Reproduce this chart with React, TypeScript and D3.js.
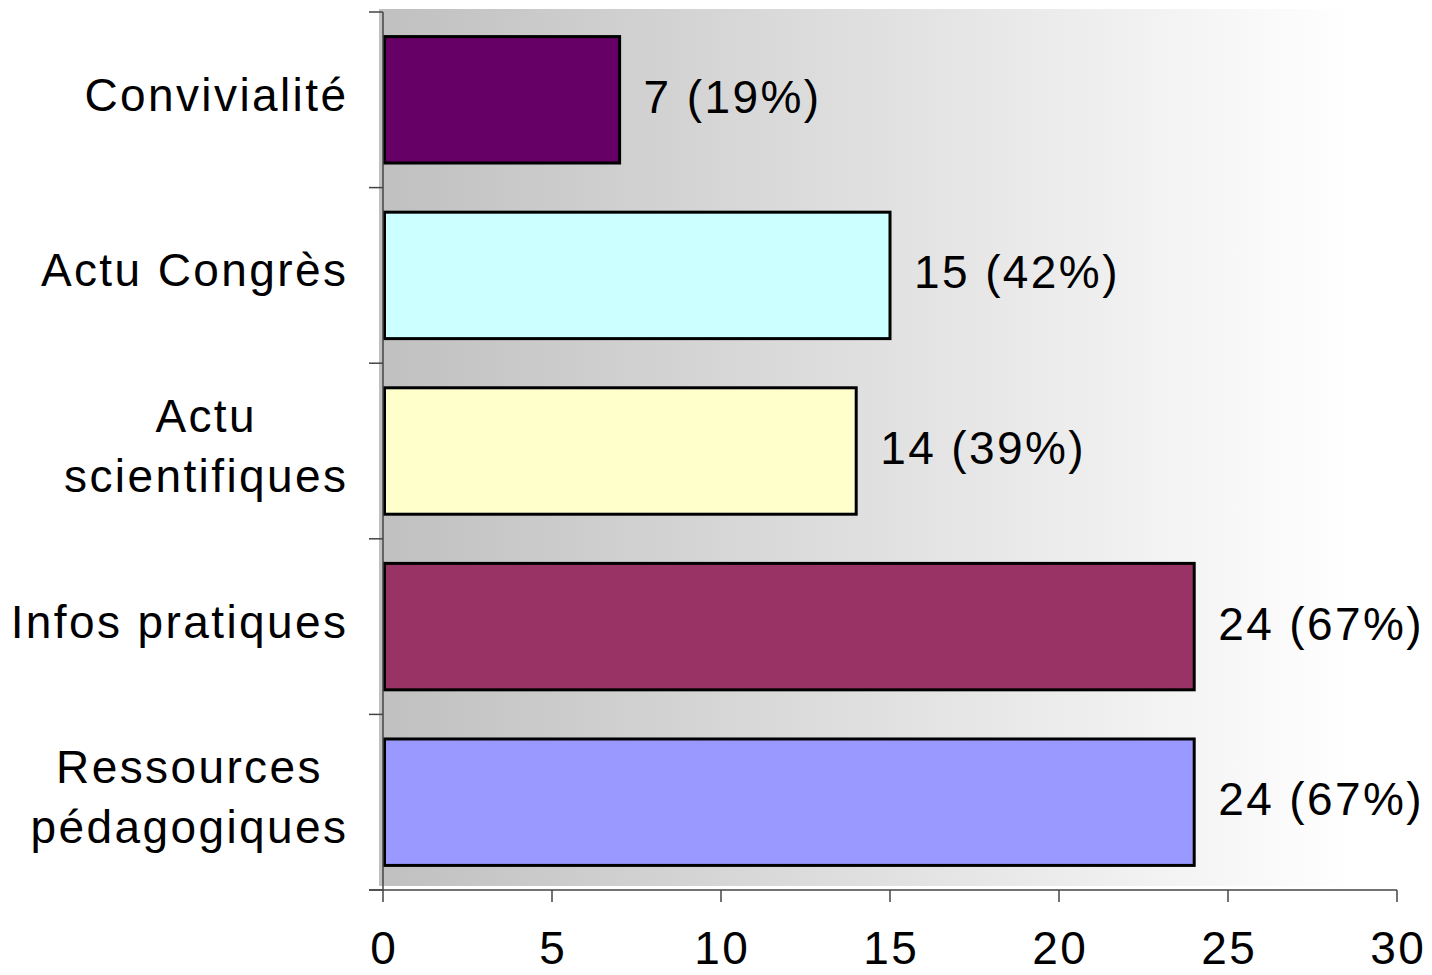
import React, { useLayoutEffect, useRef, useState } from "react";
import * as d3 from "d3";

const categories: string[][] = [
  ["Convivialité"],
  ["Actu Congrès"],
  ["Actu", "scientifiques"],
  ["Infos pratiques"],
  ["Ressources", "pédagogiques"],
];
const values: number[] = [7, 15, 14, 24, 24];
const percents: number[] = [19, 42, 39, 67, 67];
const colors: string[] = ["#660066", "#CCFFFF", "#FFFFCC", "#993366", "#9999FF"];
const xTicks: number[] = [0, 5, 10, 15, 20, 25, 30];

const W = 1432;
const H = 975;
const FONT = "Liberation Sans";
const FS = 46;
const LS = 2.4;

export default function App() {
  const x = d3.scaleLinear().domain([0, 30]).range([383, 1397]);
  const ids = categories.map((_, i) => String(i));
  const y = d3.scaleBand<string>().domain(ids).range([12, 890]).paddingInner(0.28).paddingOuter(0.14);
  const yTickScale = d3.scaleLinear().domain([0, 5]).range([12, 890]);
  const labelRight = 346 + LS;
  const refs = useRef<(SVGTextElement | null)[]>([]);
  const [centers, setCenters] = useState<number[]>(categories.map(() => 200));

  useLayoutEffect(() => {
    const c = categories.map((lines, i) => {
      const el = refs.current[i];
      if (!el || lines.length < 2) return labelRight;
      const tspans = Array.from(el.querySelectorAll("tspan")) as SVGTSpanElement[];
      const maxW = d3.max(tspans, (t) => t.getComputedTextLength()) || 0;
      return labelRight - maxW / 2;
    });
    setCenters(c);
  }, []);

  const band = (i: number) => (y(String(i)) as number);
  const bw = y.bandwidth();
  const txt = { fontFamily: FONT, fontSize: FS, letterSpacing: LS } as React.CSSProperties;

  return (
    <svg width={W} height={H} style={{ position: "absolute", left: 0, top: 0, background: "#fff" }}>
      <defs>
        <linearGradient id="bg" x1="0" x2="1" y1="0" y2="0">
          <stop offset="0" stopColor="#c0c0c0" />
          <stop offset="1" stopColor="#ffffff" />
        </linearGradient>
      </defs>
      <rect x={379} y={9} width={1353 - 379} height={886 - 9} fill="url(#bg)" />
      {values.map((v, i) => (
        <rect
          key={i}
          x={x(0) + 1.5}
          y={band(i)}
          width={x(v) - x(0) - 1.5}
          height={bw}
          fill={colors[i]}
          stroke="#000"
          strokeWidth={3}
        />
      ))}
      {values.map((v, i) => (
        <text key={i} x={x(v) + 24} y={band(i) + bw / 2 + 13} style={txt} fill="#000">
          {`${v} (${percents[i]}%)`}
        </text>
      ))}
      <line x1={383} x2={383} y1={12} y2={890} stroke="#444" strokeWidth={1.5} />
      {d3.range(6).map((k) => (
        <line key={k} x1={369} x2={383} y1={yTickScale(k)} y2={yTickScale(k)} stroke="#444" strokeWidth={1.5} />
      ))}
      <line x1={369} x2={1397} y1={890} y2={890} stroke="#444" strokeWidth={1.5} />
      {xTicks.map((t) => (
        <g key={t}>
          <line x1={x(t)} x2={x(t)} y1={890} y2={902} stroke="#444" strokeWidth={1.5} />
          <text x={x(t) + LS / 2} y={964} textAnchor="middle" style={txt} fill="#000">{t}</text>
        </g>
      ))}
      {categories.map((lines, i) => {
        const cy = band(i) + bw / 2;
        const multi = lines.length > 1;
        return (
          <text
            key={i}
            ref={(el) => { refs.current[i] = el; }}
            style={txt}
            fill="#000"
            textAnchor={multi ? "middle" : "end"}
          >
            {lines.map((ln, j) => (
              <tspan key={j} x={multi ? centers[i] : labelRight} y={cy + 11 + (j - (lines.length - 1) / 2) * 60}>{ln}</tspan>
            ))}
          </text>
        );
      })}
    </svg>
  );
}
